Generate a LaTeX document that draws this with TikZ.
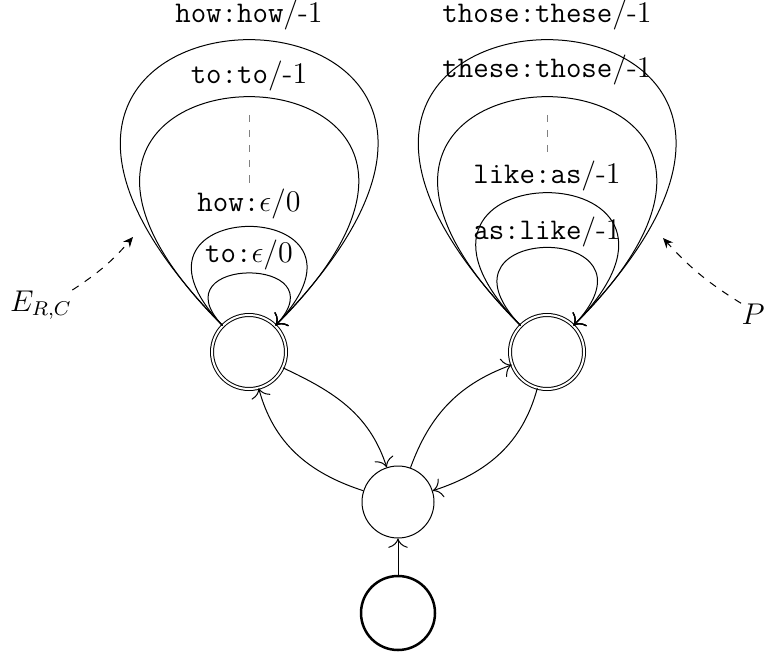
\documentclass[tikz,border=0pt]{standalone}
\usetikzlibrary{arrows.meta}
\begin{document}
\begin{tikzpicture}[x=0.4pt,y=0.4pt,
  >={To[scale=1.5]},
  every node/.style={font=\fontsize{12}{14}\selectfont},
  state/.style={circle,draw,inner sep=0pt,minimum size=28.8pt},
  final/.style={circle,draw,double,double distance=0.8pt,inner sep=0pt,minimum size=29.6pt},
  initial/.style={circle,draw,line width=1pt,inner sep=0pt,minimum size=29.6pt},
  lbl/.style={inner sep=0pt},
  ellipsis/.style={gray,dashed},
  hint/.style={dashed,-{Stealth[length=4pt,width=3.5pt]}}]
\useasboundingbox (0,0) rectangle (764,654);

% states
\node[final] (L) at (249,302) {};
\node[final] (R) at (547,302) {};
\node[state] (M) at (398,152) {};
\node[initial] (S) at (398,41) {};

% transitions between states
\draw[->] (S) -- (M);
\draw[->] (L) to[out=-25,in=108] (M);
\draw[->] (M) to[out=162,in=-75] (L);
\draw[->] (M) to[out=70,in=-160] (R);
\draw[->] (R) to[out=-105,in=18] (M);

% self loops on the left state
\draw[->] (L.135) .. controls +(-66,70) and +(66,70) .. (L.45);
\draw[->] (L.135) .. controls +(-126,132) and +(126,132) .. (L.45);
\draw[->] (L.135) .. controls +(-307,305) and +(307,305) .. (L.45);
\draw[->] (L.135) .. controls +(-374,381) and +(374,381) .. (L.45);

% self loops on the right state
\draw[->] (R.135) .. controls +(-99,104) and +(99,104) .. (R.45);
\draw[->] (R.135) .. controls +(-174,177) and +(174,177) .. (R.45);
\draw[->] (R.135) .. controls +(-307,305) and +(307,305) .. (R.45);
\draw[->] (R.135) .. controls +(-374,381) and +(374,381) .. (R.45);

% loop labels
\node[lbl] (l1) at (249,399) {\texttt{to:}$\epsilon/0$};
\node[lbl] (l2) at (249,450) {\texttt{how:}$\epsilon/0$};
\node[lbl] (l3) at (249,578) {\texttt{to:to}/-1};
\node[lbl] (l4) at (249,639) {\texttt{how:how}/-1};
\node[lbl] (r1) at (547,422) {\texttt{as:like}/-1};
\node[lbl] (r2) at (547,478) {\texttt{like:as}/-1};
\node[lbl] (r3) at (547,584) {\texttt{these:those}/-1};
\node[lbl] (r4) at (547,639) {\texttt{those:these}/-1};

% elided loops
\coordinate (ldTop) at (249,539);
\coordinate (ldBot) at (249,471);
\coordinate (rdTop) at (547,539);
\coordinate (rdBot) at (547,499);
\draw[ellipsis] (ldTop) -- (ldBot);
\draw[ellipsis] (rdTop) -- (rdBot);

% set annotations
\node[lbl] (E) at (41,349) {$E_{R,C}$};
\node[lbl] (P) at (753,340) {$P$};
\coordinate (eTip) at (133,417);
\coordinate (pTip) at (663,416);
\draw[hint] (E.north east) to[bend right=8] (eTip);
\draw[hint] (P.north west) to[bend left=8] (pTip);
\end{tikzpicture}
\end{document}
